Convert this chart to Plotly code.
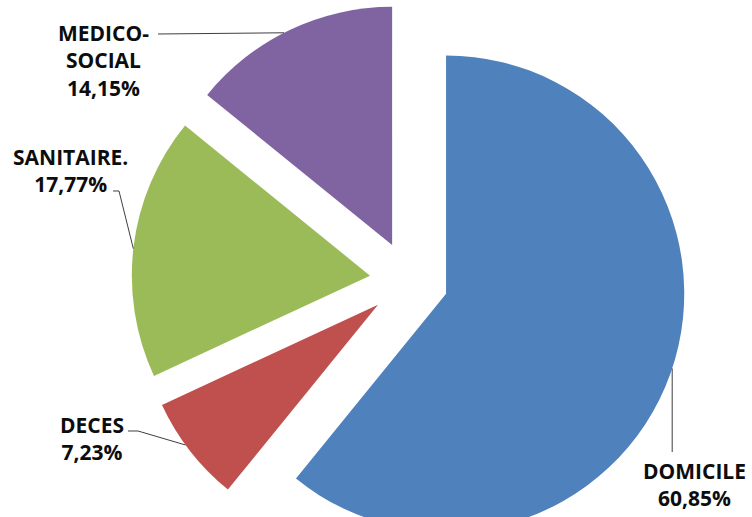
import math
import plotly.graph_objects as go

# Répartition des sorties (en %)
categories = ["DOMICILE", "DECES", "SANITAIRE.", "MEDICO-SOCIAL"]
label_lines = [["DOMICILE"], ["DECES"], ["SANITAIRE."], ["MEDICO-", "SOCIAL"]]
values = [60.85, 7.23, 17.77, 14.15]
colors = ["#4F81BD", "#C0504D", "#9BBB59", "#8064A2"]

W, H = 752, 558
PULL = 0.165
DOM_X = [0.0878, 1.0]
DOM_Y = [0.0, 0.9946]

fig = go.Figure(
    go.Pie(
        labels=categories,
        values=values,
        sort=False,
        direction="clockwise",
        rotation=0,
        pull=[PULL] * len(values),
        marker=dict(colors=colors, line=dict(width=0)),
        textinfo="none",
        hoverinfo="label+percent",
        domain=dict(x=DOM_X, y=DOM_Y),
        showlegend=False,
    )
)

# Pie geometry, following plotly's own layout rules (pixels, origin top-left)
cx = W * (DOM_X[0] + DOM_X[1]) / 2
cy = H * (2 - DOM_Y[0] - DOM_Y[1]) / 2
rad = min(W * (DOM_X[1] - DOM_X[0]), H * (DOM_Y[1] - DOM_Y[0])) / 2 / (1 + PULL)
total = sum(values)
starts, acc = [], 0.0
for v in values:
    starts.append(acc / total * 360)
    acc += v


def arc_point(i, theta):
    """Point on the outer arc of slice i at compass angle theta (deg, clockwise from top)."""
    mid = math.radians(starts[i] + values[i] / total * 180)
    ox = cx + PULL * rad * math.sin(mid)
    oy = cy - PULL * rad * math.cos(mid)
    t = math.radians(theta)
    return ox + rad * math.sin(t), oy - rad * math.cos(t)


def px(x):
    return x / W


def py(y):
    return 1 - y / H


def pct(v):
    return f"{v:.2f}".replace(".", ",") + "%"


# Label blocks: (slice index, centre x, centre y)
label_pos = [(0, 694, 484), (1, 92, 438), (2, 70, 171), (3, 103, 60)]
annotations = []
for i, x, y in label_pos:
    text = "<br>".join(label_lines[i] + [pct(values[i])])
    annotations.append(
        dict(
            x=px(x), y=py(y), xref="paper", yref="paper",
            text=text, showarrow=False, xanchor="center", yanchor="middle",
            align="center",
            font=dict(family="Open Sans", size=21, color="#0d0d0d", weight="bold"),
        )
    )

# Leader lines from each label to its slice
leaders = []
a = arc_point(3, 333)
leaders.append([(158, 34), a])
a = arc_point(2, 276.5)
leaders.append([(113, 191), (119, 191), a])
a = arc_point(1, 233.9)
leaders.append([(128, 431), (138, 431), a])
a = arc_point(0, 108.3)
leaders.append([a, (a[0], 452)])

shapes = []
for pts in leaders:
    path = "M " + " L ".join(f"{px(x):.5f},{py(y):.5f}" for x, y in pts)
    shapes.append(
        dict(type="path", path=path, xref="paper", yref="paper",
             line=dict(color="#3f3f3f", width=1))
    )

fig.update_layout(
    width=W,
    height=H,
    margin=dict(l=0, r=0, t=0, b=0),
    paper_bgcolor="white",
    plot_bgcolor="white",
    annotations=annotations,
    shapes=shapes,
)

fig.write_html(
    "out.html",
    post_script="document.body.style.overflow='hidden';"
                "document.documentElement.style.overflow='hidden';",
)
